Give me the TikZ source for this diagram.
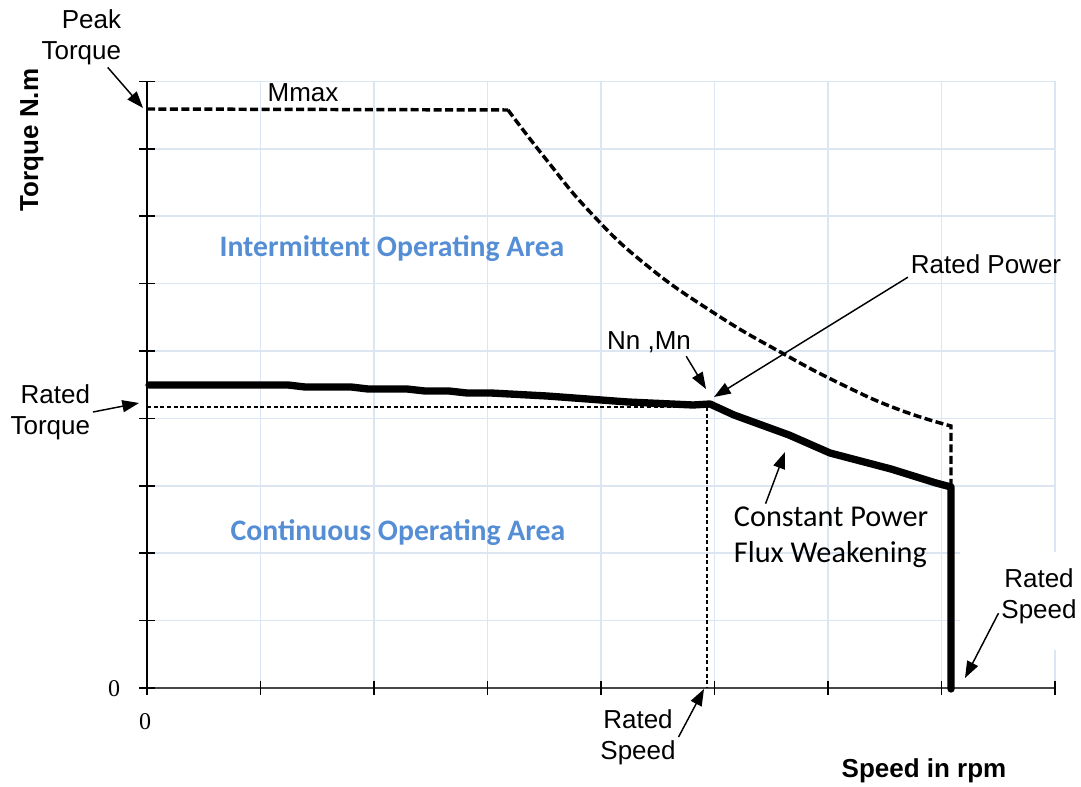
\documentclass[tikz,border=0pt]{standalone}
\usepackage{fontspec}
\setmainfont{Liberation Sans}
\newfontfamily\calfont{Carlito}
\newfontfamily\serffont{Liberation Serif}
\usetikzlibrary{arrows.meta}
\definecolor{gridblue}{RGB}{220,230,242}
\definecolor{areablue}{RGB}{85,142,213}
\definecolor{axisgray}{RGB}{70,70,70}
\tikzset{
  gridline/.style={gridblue, line width=1.3pt},
  arr/.style={-{Triangle[length=12.5pt,width=9pt]}, line width=1.1pt},
  lbl/.style={font=\fontsize{19.5}{23}\selectfont, inner sep=2pt, align=center},
  axlbl/.style={font=\bfseries\fontsize{19.5}{23}\selectfont, inner sep=0pt},
  area/.style={font=\calfont\bfseries\fontsize{22.3}{26}\selectfont, text=areablue, inner sep=0pt},
  cal/.style={font=\calfont\fontsize{22.7}{27}\selectfont, inner sep=2pt, align=left},
  zero/.style={font=\serffont\fontsize{18}{20}\selectfont, inner sep=0pt},
  maxcurve/.style={line width=2.6pt, dash pattern=on 6pt off 2.6pt},
  ratedcurve/.style={line width=5.5pt, line join=round, line cap=round},
  helpline/.style={line width=0.8pt, dash pattern=on 3pt off 2pt}
}
\begin{document}
\begin{tikzpicture}[x=0.75pt, y=-0.75pt]
  \useasboundingbox (0,0) rectangle (1081,787);
  % grid
  \foreach \i in {0,...,8}
    \draw[gridline] ({147+113.5*\i},81) -- ({147+113.5*\i},688);
  \foreach \j in {0,...,9}
    \draw[gridline] (147,{688-67.4*\j}) -- (1055,{688-67.4*\j});
  \fill[white] (960,552) rectangle (1081,650);
  % axes and ticks
  \draw[line width=1.1pt] (147,81) -- (147,688);
  \draw[axisgray, line width=1.6pt] (147,688) -- (1055,688);
  \foreach \j in {0,...,9}
    \draw[line width=1.1pt] (139,{688-67.4*\j}) -- (155,{688-67.4*\j});
  \foreach \i in {0,...,8}
    \draw[line width=1.1pt] ({147+113.5*\i},681) -- ({147+113.5*\i},695);
  \node[zero] (yzero) at (114,689) {0};
  \node[zero] (xzero) at (145,722) {0};
  % curves
  \draw[helpline] (147,407) -- (707,407) -- (707,688);
  \draw[maxcurve] (147,109) -- (508,110)
    plot[smooth, tension=0.8] coordinates {(508,110) (545,158) (590,212) (645,264)
      (714,313) (782,353) (845,386) (900,410) (951,426)} -- (951,487);
  \draw[ratedcurve] (149,385) -- (288,385) -- (305,387) -- (351,387) -- (368,389)
    -- (407,389) -- (425,391) -- (449,391) -- (467,393) -- (491,393) -- (547,396)
    -- (628,402) -- (693,405) -- (710,404) -- (734,415) -- (789,435) -- (830,453)
    -- (891,469) -- (936,483) -- (951,487) -- (951,689);
  % labels
  \node[axlbl, rotate=90, anchor=base] (tqaxis) at (38,140) {Torque N.m};
  \node[axlbl, anchor=base] (spaxis) at (924,777) {Speed in rpm};
  \node[lbl, align=right, anchor=east] (peaktq) at (124,37) {Peak\\Torque};
  \node[lbl, align=right, anchor=east] (ratedtq) at (93,412) {Rated\\Torque};
  \node[lbl, anchor=base] (mmax) at (303,102) {Mmax};
  \node[lbl, anchor=base] (nnmn) at (649,350) {Nn ,Mn};
  \node[lbl, anchor=base] (ratedpw) at (986,274) {Rated Power};
  \node[lbl] (ratedspa) at (638,737) {Rated\\Speed};
  \node[lbl] (ratedspb) at (1039,596) {Rated\\Speed};
  \node[cal, anchor=west] (constpw) at (731,537) {Constant Power\\Flux Weakening};
  \node[area, anchor=base] (intarea) at (392,257) {Intermittent Operating Area};
  \node[area, anchor=base] (contarea) at (398,540) {Continuous Operating Area};
  % arrow tips
  \coordinate (peaktip) at (143,108);
  \coordinate (tqtip) at (139,403);
  \coordinate (nntip) at (706,389);
  \coordinate (pwtip) at (714,397);
  \coordinate (cptip) at (785,452);
  \coordinate (spatip) at (704,689);
  \coordinate (spbtip) at (965,678);
  \draw[arr] (peaktq) -- (peaktip);
  \draw[arr] (ratedtq.east) -- (tqtip);
  \draw[arr] (nnmn.-20) -- (nntip);
  \draw[arr] (ratedpw.south west) -- (pwtip);
  \draw[arr] (constpw.153) -- (cptip);
  \draw[arr] (ratedspa.east) -- (spatip);
  \draw[arr] (ratedspb.203) -- (spbtip);
\end{tikzpicture}
\end{document}
